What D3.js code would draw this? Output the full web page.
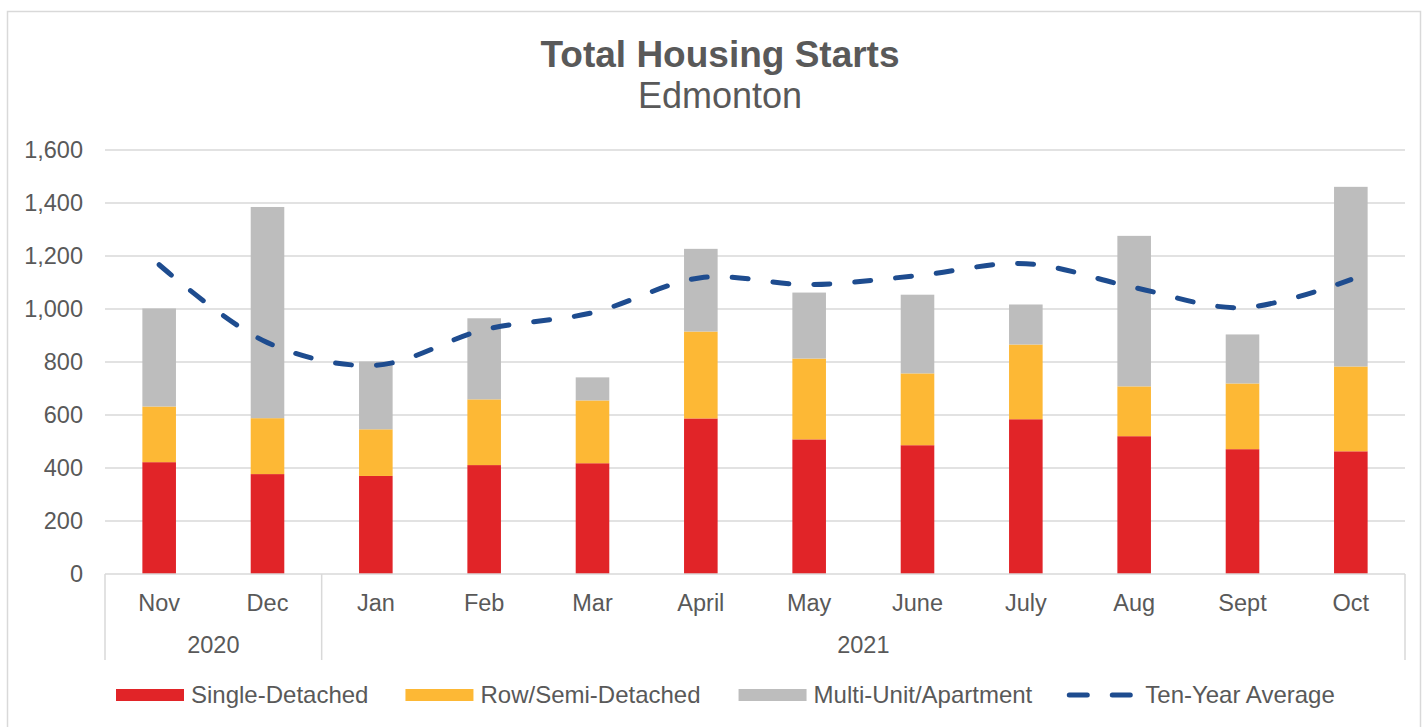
<!DOCTYPE html>
<html>
<head>
<meta charset="utf-8">
<script src="https://cdn.jsdelivr.net/npm/d3@7"></script>
<style>
  body { margin: 0; background: #fff; }
  text { font-family: "Liberation Sans", Arial, sans-serif; fill: #595959; }
</style>
</head>
<body>
<svg id="chart" width="1427" height="727"></svg>
<script>
var months = ["Nov","Dec","Jan","Feb","Mar","April","May","June","July","Aug","Sept","Oct"];
var years = [["2020", 0, 2], ["2021", 2, 12]];
var singleDetached = [422,377,370,411,418,587,508,486,584,520,471,463];
var rowSemi = [210,211,176,248,237,328,305,271,282,188,248,320];
var multiUnit = [370,797,256,306,87,312,249,297,151,568,185,678];
var tenYearAvg = [1167,873,788,922,986,1118,1092,1126,1171,1081,1005,1111];
var seriesNames = ["Single-Detached","Row/Semi-Detached","Multi-Unit/Apartment","Ten-Year Average"];
var colors = ["#E12428","#FDB835","#BDBDBD","#1E4C8F"];
var yTicks = [0,200,400,600,800,1000,1200,1400,1600];

var svg = d3.select("#chart");
var plotLeft = 105, plotRight = 1405, plotTop = 150, plotBottom = 574;

// frame
svg.append("rect").attr("x", 7.5).attr("y", 11.5).attr("width", 1413).attr("height", 730)
  .attr("fill", "none").attr("stroke", "#d9d9d9").attr("stroke-width", 1.5);

// title
svg.append("text").attr("x", 720).attr("y", 67).attr("text-anchor", "middle")
  .style("font-size", "37px").style("font-weight", "bold").text("Total Housing Starts");
svg.append("text").attr("x", 720).attr("y", 108).attr("text-anchor", "middle")
  .style("font-size", "36px").text("Edmonton");

var x = d3.scaleBand().domain(months).range([plotLeft, plotRight]).paddingInner(0.69).paddingOuter(0.345);
var y = d3.scaleLinear().domain([0, 1600]).range([plotBottom, plotTop]);

// gridlines
svg.append("g").selectAll("line").data(yTicks.slice(1)).enter().append("line")
  .attr("x1", plotLeft).attr("x2", plotRight)
  .attr("y1", function(d) { return y(d); }).attr("y2", function(d) { return y(d); })
  .attr("stroke", "#d9d9d9").attr("stroke-width", 1.5);

// y labels
svg.append("g").selectAll("text").data(yTicks).enter().append("text")
  .attr("x", 83).attr("y", function(d) { return y(d) + 8; })
  .attr("text-anchor", "end").style("font-size", "23.5px")
  .text(function(d) { return d3.format(",")(d); });

// stacked bars
var rows = months.map(function(m, i) {
  return { month: m, s: singleDetached[i], r: rowSemi[i], m2: multiUnit[i] };
});
var stack = d3.stack().keys(["s","r","m2"])(rows);
svg.append("g").selectAll("g").data(stack).enter().append("g")
  .attr("fill", function(d, i) { return colors[i]; })
  .selectAll("rect").data(function(d) { return d; }).enter().append("rect")
  .attr("x", function(d) { return x(d.data.month); })
  .attr("width", x.bandwidth())
  .attr("y", function(d) { return y(d[1]); })
  .attr("height", function(d) { return y(d[0]) - y(d[1]); });

// category axis
var step = x.step();
svg.append("line").attr("x1", plotLeft).attr("x2", plotRight).attr("y1", plotBottom).attr("y2", plotBottom)
  .attr("stroke", "#d9d9d9").attr("stroke-width", 1.5);
var seps = [0].concat(years.map(function(yr) { return yr[2]; }));
svg.append("g").selectAll("line").data(seps).enter().append("line")
  .attr("x1", function(d) { return plotLeft + d * step; }).attr("x2", function(d) { return plotLeft + d * step; })
  .attr("y1", plotBottom).attr("y2", 660)
  .attr("stroke", "#d9d9d9").attr("stroke-width", 1.5);
svg.append("g").selectAll("text").data(months).enter().append("text")
  .attr("x", function(d) { return x(d) + x.bandwidth() / 2; }).attr("y", 611)
  .attr("text-anchor", "middle").style("font-size", "23.5px").text(function(d) { return d; });
svg.append("g").selectAll("text").data(years).enter().append("text")
  .attr("x", function(d) { return plotLeft + (d[1] + d[2]) / 2 * step; }).attr("y", 653)
  .attr("text-anchor", "middle").style("font-size", "23.5px").text(function(d) { return d[0]; });

// ten-year average
var line = d3.line()
  .x(function(d, i) { return x(months[i]) + x.bandwidth() / 2; })
  .y(function(d) { return y(d); })
  .curve(d3.curveCatmullRom.alpha(0.5));
svg.append("path").datum(tenYearAvg).attr("d", line)
  .attr("fill", "none").attr("stroke", colors[3]).attr("stroke-width", 5)
  .attr("stroke-linecap", "round").attr("stroke-dasharray", "16,25");

// legend
var lg = svg.append("g");
var lx = 116, ly = 695;
var gaps = [37, 38, 32, 0];
seriesNames.forEach(function(name, i) {
  var tx = lx + 75;
  if (i < 3) {
    lg.append("rect").attr("x", lx).attr("y", ly - 6).attr("width", 68).attr("height", 12)
      .attr("fill", colors[i]);
  } else {
    lg.append("line").attr("x1", lx + 5).attr("x2", lx + 66).attr("y1", ly).attr("y2", ly)
      .attr("stroke", colors[i]).attr("stroke-width", 5).attr("stroke-linecap", "round")
      .attr("stroke-dasharray", "18,25");
    tx = lx + 81;
  }
  var t = lg.append("text").attr("x", tx).attr("y", ly + 8).style("font-size", "24px").text(name);
  lx = tx + t.node().getComputedTextLength() + gaps[i];
});
</script>
</body>
</html>
